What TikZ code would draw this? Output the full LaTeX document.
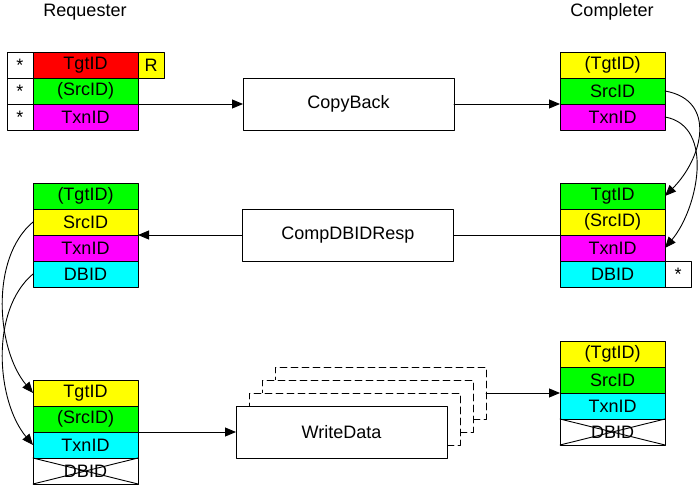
\documentclass[tikz,border=0pt]{standalone}
\usepackage{fontspec}
\setmainfont{Liberation Sans}
\usetikzlibrary{positioning,arrows.meta,calc}
\definecolor{fred}{RGB}{255,0,0}
\definecolor{fgreen}{RGB}{0,255,0}
\definecolor{fyellow}{RGB}{255,255,0}
\definecolor{fmagenta}{RGB}{255,0,255}
\definecolor{fcyan}{RGB}{0,255,255}
\tikzset{>={Triangle[length=11pt,width=9pt]}}
\tikzset{
	cell/.style={draw,outer sep=0pt,inner sep=0pt,minimum width=105pt,minimum height=26pt,font=\fontsize{18pt}{21pt}\selectfont},
	tagbox/.style={cell,minimum width=26pt},
	msgbox/.style={cell,minimum width=211pt,minimum height=52pt,fill=white},
	ghostbox/.style={msgbox,dashed,dash pattern=on 7pt off 4pt},
	side/.style={font=\fontsize{18pt}{21pt}\selectfont}
}

\begin{document}
\begin{tikzpicture}[line cap=round,line join=round,line width=0.9pt,x=1pt,y=1pt]
			\useasboundingbox (0,0) rectangle (700,488);
			\node[side] (req) at (85,476) {Requester};
			\node[side] (cmp) at (612,476) {Completer};
			% CopyBack
			\node[cell,fill=fred] (rqA) at (85.5,423) {TgtID};
			\node[cell,fill=fgreen,below=0pt of rqA] (rqB) {(SrcID)};
			\node[cell,fill=fmagenta,below=0pt of rqB] (rqC) {TxnID};
			\node[tagbox,left=0pt of rqA] (rsA) {*};
			\node[tagbox,left=0pt of rqB] (rsB) {*};
			\node[tagbox,left=0pt of rqC] (rsC) {*};
			\node[tagbox,fill=fyellow,right=0pt of rqA] (rR) {R};
			\node[msgbox] (cb) at (348.5,384) {CopyBack};
			\node[cell,fill=fyellow] (ctA) at (612.5,423) {(TgtID)};
			\node[cell,fill=fgreen,below=0pt of ctA] (ctB) {SrcID};
			\node[cell,fill=fmagenta,below=0pt of ctB] (ctC) {TxnID};
			\draw[->] (rqB.south east) -- (cb.west);
			\draw[->] (cb.east) -- (ctB.south west);
			% CompDBIDResp
			\node[cell,fill=fgreen] (cmA) at (612.5,292) {TgtID};
			\node[cell,fill=fyellow,below=0pt of cmA] (cmB) {(SrcID)};
			\node[cell,fill=fmagenta,below=0pt of cmB] (cmC) {TxnID};
			\node[cell,fill=fcyan,below=0pt of cmC] (cmD) {DBID};
			\node[tagbox,right=0pt of cmD] (csD) {*};
			\node[msgbox] (cdr) at (348,253) {CompDBIDResp};
			\node[cell,fill=fgreen] (lfA) at (85.5,292) {(TgtID)};
			\node[cell,fill=fyellow,below=0pt of lfA] (lfB) {SrcID};
			\node[cell,fill=fmagenta,below=0pt of lfB] (lfC) {TxnID};
			\node[cell,fill=fcyan,below=0pt of lfC] (lfD) {DBID};
			\draw (cmB.south west) -- (cdr.east);
			\draw[->] (cdr.west) -- (lfB.south east);
			\draw[->] (ctB.east) to[out=-10,in=45,looseness=1.3] (cmA.east);
			\draw[->] (ctC.east) to[out=-10,in=50,looseness=1] (cmC.east);
			% WriteData
			\node[cell,fill=fyellow] (blA) at (85.5,95) {TgtID};
			\node[cell,fill=fgreen,below=0pt of blA] (blB) {(SrcID)};
			\node[cell,fill=fcyan,below=0pt of blB] (blC) {TxnID};
			\node[cell,below=0pt of blC] (blD) {DBID};
			\draw (blD.north west) -- (blD.south east) (blD.south west) -- (blD.north east);
			\draw[->] (lfB.west) to[out=220,in=130,looseness=0.85] (blA.west);
			\draw[->] (lfD.west) to[out=220,in=130,looseness=0.85] (blC.west);
			\node[ghostbox] (wd3) at (380.5,95) {};
			\node[ghostbox] (wd2) at (367.5,82) {};
			\node[ghostbox] (wd1) at (354.5,69) {};
			\node[msgbox] (wd) at (341.5,56) {WriteData};
			\node[cell,fill=fyellow] (brA) at (612.5,134) {(TgtID)};
			\node[cell,fill=fgreen,below=0pt of brA] (brB) {SrcID};
			\node[cell,fill=fcyan,below=0pt of brB] (brC) {TxnID};
			\node[cell,below=0pt of brC] (brD) {DBID};
			\draw (brD.north west) -- (brD.south east) (brD.south west) -- (brD.north east);
			\draw[->] (blB.south east) -- (wd.west);
			\draw[->] (wd3.east) -- (brB.south west);
			\end{tikzpicture}
\end{document}
